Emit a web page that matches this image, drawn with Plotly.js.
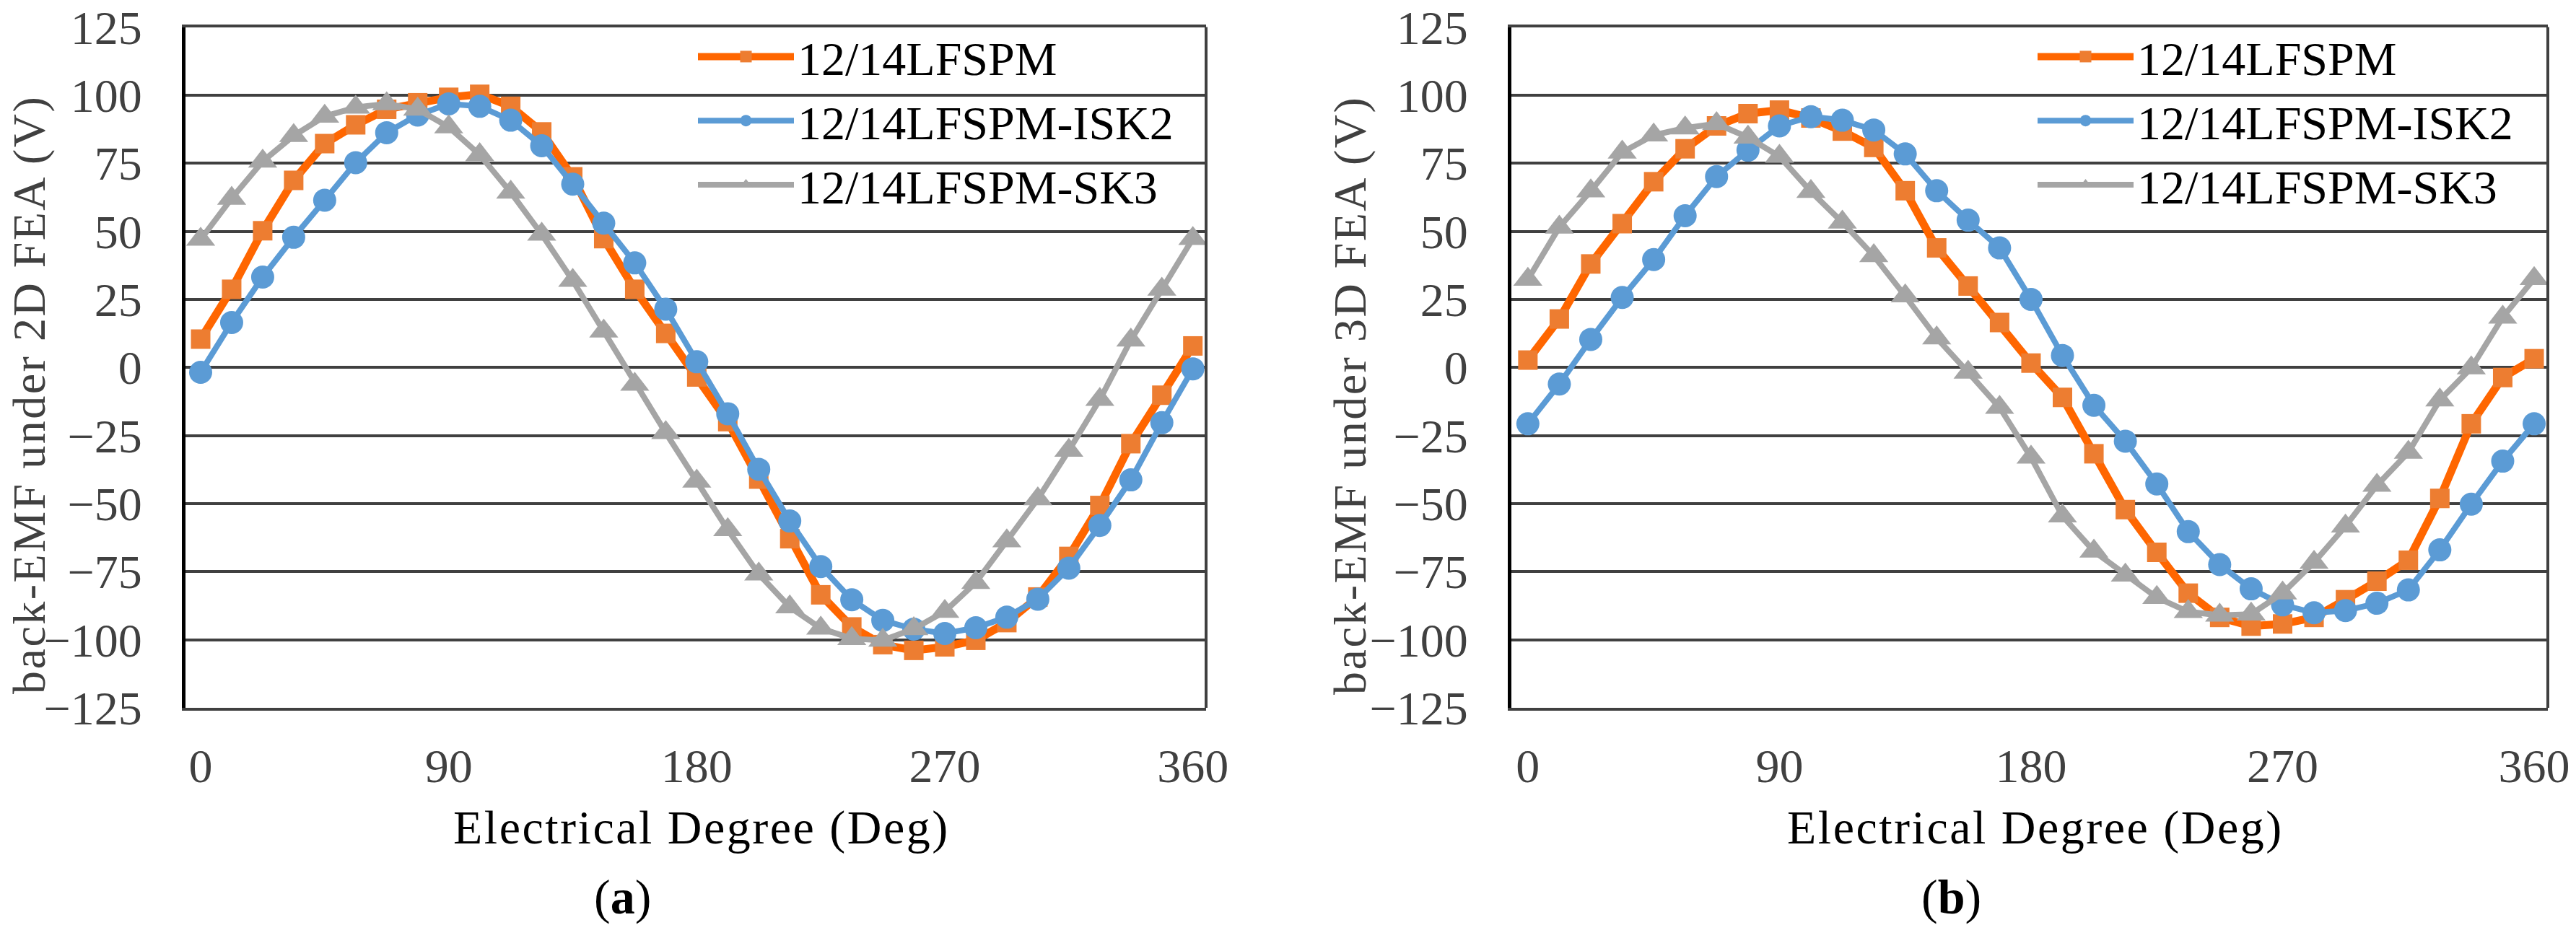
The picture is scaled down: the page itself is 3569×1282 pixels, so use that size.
<!DOCTYPE html>
<html>
<head>
<meta charset="utf-8">
<script src="https://cdn.plot.ly/plotly-3.0.1.min.js"></script>
<style>
html, body { margin: 0; padding: 0; background: #fff; }
#chart { width: 3569px; height: 1282px; }
</style>
</head>
<body>
<div id="chart"></div>
<script>
// Electrical degree (x) for every sample
var degrees = [0, 11.25, 22.5, 33.75, 45, 56.25, 67.5, 78.75, 90, 101.25, 112.5, 123.75, 135, 146.25, 157.5, 168.75, 180,
  191.25, 202.5, 213.75, 225, 236.25, 247.5, 258.75, 270, 281.25, 292.5, 303.75, 315, 326.25, 337.5, 348.75, 360];
var xTickVals = [0, 90, 180, 270, 360];
var xTickText = ['0', '90', '180', '270', '360'];
var yTickVals = [-125, -100, -75, -50, -25, 0, 25, 50, 75, 100, 125];

var seriesNames = ['12/14LFSPM', '12/14LFSPM-ISK2', '12/14LFSPM-SK3'];

// (a) back-EMF under 2D FEA
var fea2d_LFSPM = [10.4, 28.7, 50.2, 68.7, 82.2, 89.1, 94.8, 97.2, 99.2, 100.3, 95.9, 86.5, 70, 47.3, 28.7, 12.5, -3.5,
  -19.9, -41, -62.9, -83.5, -95.3, -101.8, -103.9, -102.6, -100.2, -93.7, -84.3, -69.4, -50.7, -28, -10.2, 7.9];
var fea2d_ISK2 = [-1.8, 16.5, 33.2, 47.8, 61.4, 75.2, 86.2, 92.7, 96.8, 95.9, 90.8, 81.4, 67.3, 53, 38.4, 21.4, 2.1,
  -17, -37.4, -56.4, -73.1, -85.3, -92.9, -96.1, -97.7, -95.6, -91.7, -85.1, -73.7, -58, -41.3, -20.3, -0.5];
var fea2d_SK3 = [47, 62.1, 75.7, 85.1, 92.2, 95.5, 96.8, 94.8, 88.3, 78.1, 64.3, 48.9, 31.9, 13.3, -6.2, -24, -41.8,
  -59.6, -75.9, -88, -95.8, -99.6, -100.2, -96, -89.6, -79, -63.7, -48.3, -30.5, -11.8, 10, 28.7, 47.3];

// (b) back-EMF under 3D FEA
var fea3d_LFSPM = [2.7, 17.8, 38, 52.8, 68.2, 80.3, 88.7, 93.2, 94.5, 91.6, 86.8, 80.8, 64.9, 43.9, 29.9, 16.5, 1.6,
  -11, -31.7, -52.2, -67.9, -82.9, -91.8, -95, -94.2, -91.8, -85.3, -78.5, -70.8, -48.1, -20.7, -3.7, 3.2];
var fea3d_ISK2 = [-20.7, -6.1, 10.3, 25.7, 39.6, 55.7, 70.1, 79.8, 88.7, 92.1, 90.8, 87.2, 78.4, 64.9, 54.1, 43.9, 25,
  4.4, -13.9, -27.1, -42.8, -60.3, -72.4, -81.3, -87.2, -90.1, -89.3, -86.6, -81.7, -67, -50.2, -34.4, -20.7];
var fea3d_SK3 = [32.3, 51.5, 64.8, 79, 85.3, 87.9, 89.5, 84.5, 77.5, 64.6, 53.3, 41, 26.2, 10.8, -1.8, -14.7, -33,
  -54.6, -67.5, -76.3, -84.5, -89.7, -91, -90.6, -82.9, -71.6, -58.3, -43.3, -31.2, -12, -0.2, 18.4, 32.6];

var W = 3569, H = 1282;
var FONT = 'Liberation Serif, Times New Roman, serif';
function px(x) { return x / W; }
function py(y) { return 1 - y / H; }

var styles = [
  { line: { color: '#FF6600', width: 11 }, marker: { symbol: 'square', size: 27, color: '#ED7D31' } },
  { line: { color: '#5B9BD5', width: 8 }, marker: { symbol: 'circle', size: 32, color: '#5B9BD5' } },
  { line: { color: '#A5A5A5', width: 8 }, marker: { symbol: 'triangle-up', size: 35, color: '#A5A5A5' } }
];

function mk(y, i, ax, lg) {
  return {
    type: 'scatter', mode: 'lines+markers', name: seriesNames[i],
    x: degrees, y: y, xaxis: ax.x, yaxis: ax.y, legend: lg,
    line: styles[i].line, marker: styles[i].marker, cliponaxis: false
  };
}
var A1 = { x: 'x', y: 'y' }, A2 = { x: 'x2', y: 'y2' };
var data = [
  mk(fea2d_LFSPM, 0, A1, 'legend'), mk(fea2d_ISK2, 1, A1, 'legend'), mk(fea2d_SK3, 2, A1, 'legend'),
  mk(fea3d_LFSPM, 0, A2, 'legend2'), mk(fea3d_ISK2, 1, A2, 'legend2'), mk(fea3d_SK3, 2, A2, 'legend2')
];

function xax(d0, d1, r, anchor) {
  return {
    domain: [d0, d1], range: r, anchor: anchor,
    tickmode: 'array', tickvals: xTickVals, ticktext: xTickText,
    showgrid: false, zeroline: false, ticks: '',
    showline: true, linecolor: '#404040', linewidth: 4, mirror: true,
    ticklabelstandoff: 20,
    tickfont: { family: FONT, size: 66, color: '#404040' }
  };
}
function yax(anchor) {
  return {
    domain: [py(981), py(37.5)], range: [-125, 125], anchor: anchor,
    tickmode: 'array', tickvals: yTickVals,
    showgrid: true, gridcolor: '#404040', gridwidth: 4, zeroline: false, ticks: '',
    showline: true, linecolor: '#000000', linewidth: 5,
    ticklabelstandoff: 42,
    tickfont: { family: FONT, size: 66, color: '#404040' }
  };
}
function legend(xLeft) {
  return {
    x: px(xLeft), xanchor: 'left', xref: 'paper',
    y: py(29), yanchor: 'top', yref: 'paper',
    bgcolor: 'rgba(0,0,0,0)', borderwidth: 0,
    itemwidth: 133, tracegroupgap: 0,
    font: { family: FONT, size: 66, color: '#000000' }
  };
}
function ann(text, x, y, size, color, angle) {
  return {
    text: text, xref: 'paper', yref: 'paper', x: px(x), y: py(y),
    xanchor: 'center', yanchor: 'middle', showarrow: false, textangle: angle || 0,
    font: { family: FONT, size: size, color: color }
  };
}
var spaced = function (t) { return '<span style="letter-spacing:2.5px">' + t + '</span>'; };

var layout = {
  width: W, height: H,
  margin: { l: 0, r: 0, t: 0, b: 0 },
  paper_bgcolor: '#ffffff', plot_bgcolor: '#ffffff',
  showlegend: true,
  xaxis: xax(px(257), px(1671), [-5.5, 364.8], 'y'),
  yaxis: yax('x'),
  xaxis2: xax(px(2094), px(3530), [-5.9, 364.9], 'y2'),
  yaxis2: yax('x2'),
  legend: legend(962),
  legend2: legend(2818),
  shapes: [
    { type: 'line', xref: 'x domain', yref: 'y domain', x0: 1, x1: 1, y0: 0, y1: 1, line: { color: '#404040', width: 4 } },
    { type: 'line', xref: 'x2 domain', yref: 'y2 domain', x0: 1, x1: 1, y0: 0, y1: 1, line: { color: '#404040', width: 4 } }
  ],
  annotations: [
    ann(spaced('back-EMF under 2D FEA (V)'), 40, 547, 64, '#404040', -90),
    ann(spaced('back-EMF under 3D FEA (V)'), 1870, 548, 64, '#404040', -90),
    ann(spaced('Electrical Degree (Deg)'), 972, 1147, 66, '#000000'),
    ann(spaced('Electrical Degree (Deg)'), 2820, 1147, 66, '#000000'),
    ann('(<b>a</b>)', 862, 1243, 68, '#000000'),
    ann('(<b>b</b>)', 2703, 1243, 68, '#000000')
  ]
};

Plotly.newPlot('chart', data, layout, { displayModeBar: false, staticPlot: true });
</script>
</body>
</html>
